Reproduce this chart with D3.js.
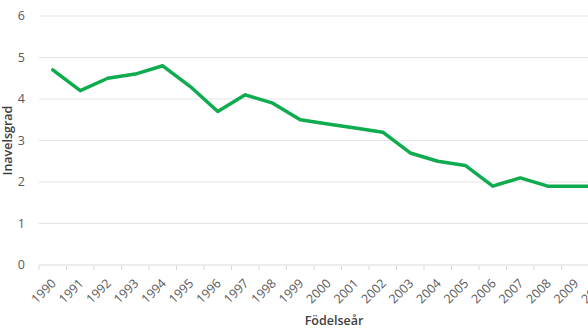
<!DOCTYPE html>
<html>
<head>
<meta charset="utf-8">
<script src="https://cdn.jsdelivr.net/npm/d3@7"></script>
<style>
  html, body { margin: 0; padding: 0; background: #fff; overflow: hidden; }
  svg { display: block; font-family: "Open Sans", sans-serif; }
</style>
</head>
<body>
<svg id="chart" width="588" height="330"></svg>
<script>
// Birth years and inbreeding degree per year
const years = ["1990","1991","1992","1993","1994","1995","1996","1997","1998","1999",
               "2000","2001","2002","2003","2004","2005","2006","2007","2008","2009","2010"];
const values = [4.7, 4.2, 4.5, 4.6, 4.8, 4.3, 3.7, 4.1, 3.9, 3.5,
                3.4, 3.3, 3.2, 2.7, 2.5, 2.4, 1.9, 2.1, 1.9, 1.9, 1.9];
const yTicks = [0, 1, 2, 3, 4, 5, 6];
const yTitle = "Inavelsgrad";
const xTitle = "Födelseår";

const svg = d3.select("#chart");
const plotLeft = 39, plotTop = 16, plotBottom = 265;
const step = 27.5;

const x = d3.scaleBand().domain(years)
  .range([plotLeft, plotLeft + step * years.length]).paddingInner(0).paddingOuter(0);
const y = d3.scaleLinear().domain([0, 6]).range([plotBottom, plotTop]);

// horizontal gridlines
svg.append("g").selectAll("line").data(yTicks.filter(d => d > 0)).join("line")
  .attr("x1", plotLeft).attr("x2", 700)
  .attr("y1", d => y(d)).attr("y2", d => y(d))
  .attr("stroke", "#e3e3e3").attr("stroke-width", 1);

// y tick labels
svg.append("g").selectAll("text").data(yTicks).join("text")
  .attr("x", 25).attr("y", d => y(d)).attr("dy", "0.35em")
  .attr("text-anchor", "end").attr("font-size", 12.5).attr("fill", "#595959")
  .text(d => d);

// x axis baseline with category boundary ticks
const xAxis = svg.append("g").attr("transform", `translate(0,${plotBottom})`);
xAxis.append("line").attr("x1", plotLeft).attr("x2", 700)
  .attr("stroke", "#d9d9d9").attr("stroke-width", 1);
const bounds = years.map(d => x(d)).concat([x(years[years.length - 1]) + x.bandwidth()]);
xAxis.selectAll("line.tick").data(bounds).join("line").attr("class", "tick")
  .attr("x1", d => d).attr("x2", d => d).attr("y1", 0).attr("y2", 5)
  .attr("stroke", "#d9d9d9");
xAxis.selectAll("text").data(years).join("text")
  .attr("transform", d => `translate(${x(d) + x.bandwidth() / 2 + 1},${16}) rotate(-45)`)
  .attr("text-anchor", "end").attr("dy", "0.35em")
  .attr("font-size", 12.5).attr("fill", "#595959")
  .text(d => d);

// line series
const line = d3.line()
  .x((d, i) => x(years[i]) + x.bandwidth() / 2)
  .y(d => y(d));
svg.append("path").datum(values)
  .attr("d", line).attr("fill", "none")
  .attr("stroke", "#0fab4f").attr("stroke-width", 3.5)
  .attr("stroke-linejoin", "round").attr("stroke-linecap", "round");

// axis titles
svg.append("text")
  .attr("transform", `translate(12,${(plotTop + plotBottom) / 2}) rotate(-90)`)
  .attr("text-anchor", "middle").attr("font-size", 12.5).attr("font-weight", 600)
  .attr("fill", "#404040").text(yTitle);
svg.append("text")
  .attr("x", 334).attr("y", 325).attr("text-anchor", "middle")
  .attr("font-size", 12.5).attr("font-weight", 600).attr("fill", "#404040")
  .text(xTitle);
</script>
</body>
</html>
